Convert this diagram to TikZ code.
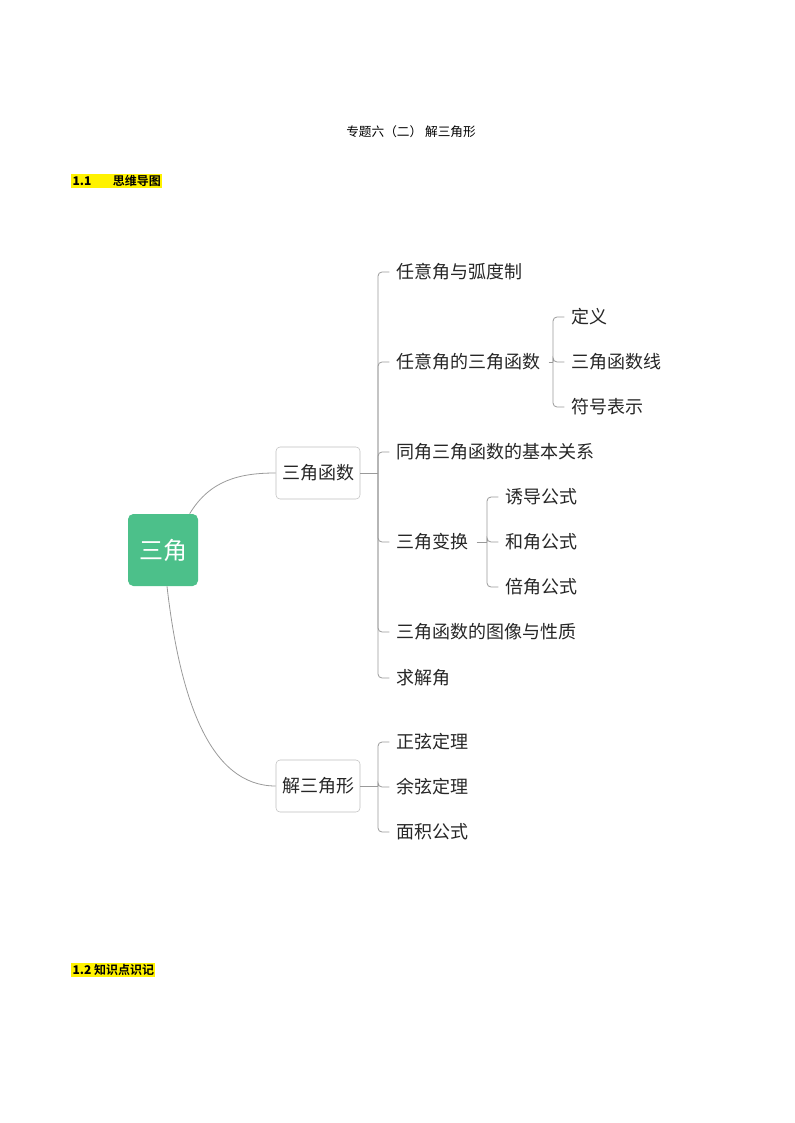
\documentclass[tikz,border=0pt]{standalone}
\usepackage{fontspec}
\setmainfont{Liberation Serif}
\newfontfamily\cjk{Noto Sans CJK SC}
\newfontfamily\cjkb{Noto Sans CJK SC Bold}
\definecolor{rootg}{HTML}{4CC08A}
\definecolor{linec}{HTML}{9A9A9A}
\begin{document}
\begin{tikzpicture}[x=0.75pt,y=-0.75pt,
  leaf/.style={anchor=west,inner sep=0pt,font=\cjk\fontsize{13.5pt}{15pt}\selectfont,text=black!85},
  mid/.style={draw=black!25,rounded corners=3pt,minimum width=63pt,minimum height=39pt,font=\cjk\fontsize{13.5pt}{15pt}\selectfont,text=black!85},
  br/.style={draw=linec,line width=0.6pt,rounded corners=3pt},
  ln/.style={draw=linec,line width=0.6pt}]
\useasboundingbox (0,0) rectangle (794,1123);
\node[font=\cjk\fontsize{9.5pt}{11pt}\selectfont] (title) at (411,132) {专题六（二） 解三角形};
\node[fill=yellow,inner sep=1pt,anchor=west,font=\cjkb\fontsize{9pt}{11pt}\selectfont] (h1) at (71,181) {\textbf{1.1}\hspace{16pt}思维导图};
\node[fill=yellow,inner sep=1pt,anchor=west,font=\cjkb\fontsize{9pt}{11pt}\selectfont] (h2) at (71,970) {\textbf{1.2} 知识点识记};

\node[fill=rootg,rounded corners=4pt,minimum width=52.5pt,minimum height=54pt,text=white,font=\cjk\fontsize{18pt}{20pt}\selectfont] (root) at (163,550) {三角};
\node[mid] (sj) at (318,473) {三角函数};
\node[mid] (jsj) at (318,786) {解三角形};
\draw[ln] (root.north)++(20pt,0) coordinate (r1) .. controls (210,480) and (240,473) .. (sj.west);
\draw[ln] (root.south)++(3pt,0) coordinate (r2) .. controls (180,700) and (210,786) .. (jsj.west);

\coordinate (hA) at (378,473);
\draw[ln] (sj.east) -- (hA);
\node[leaf] (a1) at (396,272) {任意角与弧度制};
\node[leaf] (a2) at (396,362) {任意角的三角函数};
\node[leaf] (a3) at (396,452) {同角三角函数的基本关系};
\node[leaf] (a4) at (396,542) {三角变换};
\node[leaf] (a5) at (396,632) {三角函数的图像与性质};
\node[leaf] (a6) at (396,678) {求解角};
\foreach \n in {a1,a2,a3,a4,a5,a6}{\draw[br] (hA) |- ([xshift=-5pt]\n.west);}

\coordinate (hB) at (553,362);
\draw[ln] ([xshift=6pt]a2.east) -- (hB);
\node[leaf] (b1) at (571,317) {定义};
\node[leaf] (b2) at (571,362) {三角函数线};
\node[leaf] (b3) at (571,407) {符号表示};
\foreach \n in {b1,b2,b3}{\draw[br] (hB) |- ([xshift=-5pt]\n.west);}

\coordinate (hC) at (487,542);
\draw[ln] ([xshift=6pt]a4.east) -- (hC);
\node[leaf] (c1) at (505,497) {诱导公式};
\node[leaf] (c2) at (505,542) {和角公式};
\node[leaf] (c3) at (505,587) {倍角公式};
\foreach \n in {c1,c2,c3}{\draw[br] (hC) |- ([xshift=-5pt]\n.west);}

\coordinate (hD) at (378,786);
\draw[ln] (jsj.east) -- (hD);
\node[leaf] (d1) at (396,742) {正弦定理};
\node[leaf] (d2) at (396,787) {余弦定理};
\node[leaf] (d3) at (396,832) {面积公式};
\foreach \n in {d1,d2,d3}{\draw[br] (hD) |- ([xshift=-5pt]\n.west);}
\end{tikzpicture}
\end{document}
